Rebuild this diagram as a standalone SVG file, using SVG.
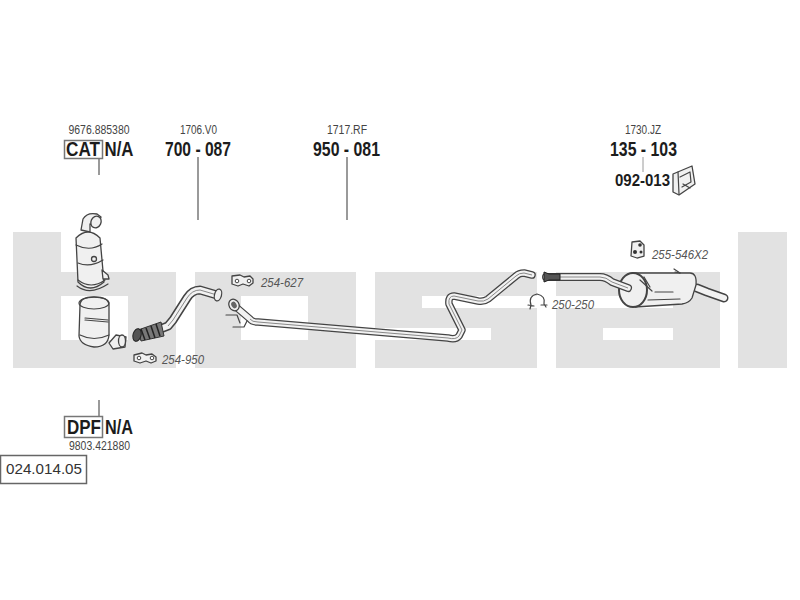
<svg xmlns="http://www.w3.org/2000/svg" width="800" height="600" viewBox="0 0 800 600">
<style>
text{font-family:"Liberation Sans",Arial,sans-serif;fill:#2a2a2a}
.ref{font-size:12px;fill:#444}
.big{font-size:21px;font-weight:bold;fill:#1c1c1c}
.cat{font-size:20px;font-weight:bold;fill:#1c1c1c}
.it{font-size:12px;font-style:italic;fill:#555}
.lead{stroke:#9a9a9a;stroke-width:2;fill:none}
.box{fill:none;stroke:#777;stroke-width:1.5}
.po{fill:none;stroke:#444;stroke-linejoin:round;stroke-linecap:round}
.pi{fill:none;stroke:#f2f2f2;stroke-linejoin:round;stroke-linecap:round}
.pm{fill:none;stroke:#888;stroke-width:1;stroke-linejoin:round}
.s{fill:#f0f0f0;stroke:#444;stroke-width:1.3;stroke-linejoin:round}
.d{fill:none;stroke:#444;stroke-width:1.2;stroke-linecap:round;stroke-linejoin:round}
</style>
<g id="bg" fill="#e2e2e2">
<path fill-rule="evenodd" d="M13 232H61V272H176V368H13ZM61 296V340H128V296Z"/>
<path fill-rule="evenodd" d="M195 272H356V368H195ZM241 296V340H308V296Z"/>
<path d="M375 272H537V296H422V308H537V368H375V340H491V328H375Z"/>
<path fill-rule="evenodd" d="M556 272H720V368H556V308H673V296H556ZM603 328V340H673V328Z"/>
<rect x="738" y="232" width="49" height="136"/>
</g>
<g id="connectors">
<path class="lead" d="M99 158V175"/>
<path class="lead" d="M198 157V220"/>
<path class="lead" d="M347 157V220"/>
<path class="lead" stroke-width="1" d="M643 157V172" style="stroke-width:1"/>
<path class="lead" d="M99 400V416"/>
</g>
<g id="label-cat">
<text class="ref" x="68.500" y="134" textLength="61" lengthAdjust="spacingAndGlyphs">9676.885380</text>
<rect class="box" x="64.500" y="140.500" width="38" height="18"/>
<text class="cat" x="66" y="156" textLength="34" lengthAdjust="spacingAndGlyphs">CAT</text>
<text class="cat" x="104.500" y="156" textLength="29" lengthAdjust="spacingAndGlyphs">N/A</text>
</g>
<g id="label-700">
<text class="ref" x="180" y="134" textLength="37" lengthAdjust="spacingAndGlyphs">1706.V0</text>
<text class="big" x="165" y="156" textLength="66" lengthAdjust="spacingAndGlyphs">700 - 087</text>
</g>
<g id="label-950">
<text class="ref" x="327" y="134" textLength="40" lengthAdjust="spacingAndGlyphs">1717.RF</text>
<text class="big" x="313" y="156" textLength="67" lengthAdjust="spacingAndGlyphs">950 - 081</text>
</g>
<g id="label-135">
<text class="ref" x="625" y="134" textLength="36" lengthAdjust="spacingAndGlyphs">1730.JZ</text>
<text class="big" x="610" y="156" textLength="67" lengthAdjust="spacingAndGlyphs">135 - 103</text>
<text x="615" y="186" textLength="55" lengthAdjust="spacingAndGlyphs" style="font-size:17px;font-weight:bold;fill:#1c1c1c">092-013</text>
</g>
<g id="bracket-092">
<path class="s" d="M673 174L692 166L695 184L679 195L673 192Z"/>
<path class="d" d="M678 172L679 194M680 177L690 172L691 182L682 187M683 184L690 188"/>
</g>
<g id="label-dpf">
<rect class="box" x="64.500" y="416.500" width="38" height="21"/>
<text class="cat" x="67" y="434" textLength="34" lengthAdjust="spacingAndGlyphs">DPF</text>
<text class="cat" x="105" y="434" textLength="28" lengthAdjust="spacingAndGlyphs">N/A</text>
<text class="ref" x="69" y="450" textLength="61" lengthAdjust="spacingAndGlyphs">9803.421880</text>
</g>
<g id="code">
<rect x="0.500" y="455.500" width="86" height="28" fill="#fff" stroke="#666" stroke-width="1.500"/>
<text x="6" y="474" textLength="76" lengthAdjust="spacingAndGlyphs" style="font-size:15px;fill:#333">024.014.05</text>
</g>
<g id="catalyst">
<path class="s" d="M81 230L83 219Q87 212 97 214L101 217L98 226L90 224L90 232Z"/>
<ellipse class="s" cx="96" cy="222" rx="5" ry="6" transform="rotate(25 96 222)"/>
<path class="s" d="M76 238Q88 226 100 238L104 282Q90 294 78 282Z"/>
<path class="d" d="M76 245Q90 252 102 244M78 263Q90 268 103 260M78 280Q91 290 105 280M77 286Q90 296 108 284"/>
<circle class="s" cx="94" cy="259" r="2.500"/>
<path class="s" d="M102 270L108 275L109 279L103 279Z"/>
</g>
<g id="dpf">
<path class="s" d="M80 305Q80 297 94 297Q109 297 109 305L109 335Q108 347 94 347Q80 345 79 336Z"/>
<ellipse class="d" cx="94" cy="303" rx="15" ry="6" fill="#f0f0f0"/>
<path class="d" d="M85 318L108 320M85 320L108 322M80 335Q94 342 109 335"/>
<path class="s" d="M109 343L116 335L126 337L125 347L113 349Z"/>
<ellipse class="s" cx="122" cy="341" rx="3.500" ry="6"/>
</g>
<g id="pipe-700">
<path class="po" stroke-width="9" d="M155 331L168 326L173 320L187 298Q192 290 200 290L217 295"/>
<path class="pi" stroke-width="6" d="M155 331L168 326L173 320L187 298Q192 290 200 290L217 295"/>
<path class="pm" d="M168 326L173 320L187 298Q192 290 200 290L217 295"/>
<ellipse class="s" cx="218" cy="295" rx="3.500" ry="6" transform="rotate(15 218 295)"/>
<path d="M138 330L161 322L164 336L141 341Z" fill="#777" stroke="#333"/>
<path d="M141 329L145 340M146 328L150 339M151 326L155 338M156 324L160 336" stroke="#222" stroke-width="1.500" fill="none"/>
<ellipse cx="137" cy="335" rx="4" ry="6.500" fill="#555" stroke="#222" transform="rotate(15 137 335)"/>
</g>
<g id="pipe-950">
<path class="po" stroke-width="7.500" d="M236 307L250 319Q252 322 258 322L448 338Q456 340 459 336L462 330L449 304Q448 296 454 296L478 301Q484 302 488 299L516 276Q519 273 524 273L532 275"/>
<path class="pi" stroke-width="5" d="M236 307L250 319Q252 322 258 322L448 338Q456 340 459 336L462 330L449 304Q448 296 454 296L478 301Q484 302 488 299L516 276Q519 273 524 273L532 275"/>
<path class="pm" d="M250 319Q252 322 258 322L448 338Q456 340 459 336L462 330L449 304Q448 296 454 296L478 301Q484 302 488 299L516 276Q519 273 524 273L532 275"/>
<ellipse class="s" cx="234" cy="305" rx="5" ry="6" transform="rotate(-30 234 305)"/>
<ellipse cx="234" cy="305" rx="2.500" ry="3.500" fill="#666" transform="rotate(-30 234 305)"/>
<path class="d" d="M226 315H237L240 323M233 327H244L247 321"/>
</g>
<g id="muffler">
<path class="po" stroke-width="9" d="M697 288L707 292L724 298"/>
<path class="pi" stroke-width="6" d="M697 288L707 292L724 298"/>
<path class="s" d="M632 273H690Q697 273 696 285L692 298Q689 303 682 304L635 307Z"/>
<path class="d" d="M648 300L680 299M655 292H673"/>
<ellipse class="s" cx="633" cy="290" rx="14" ry="17" stroke-width="2" style="stroke-width:2"/>
<path class="po" stroke-width="8" d="M546 277H600Q606 277 612 282L628 288"/>
<path class="pi" stroke-width="5.500" d="M546 277H600Q606 277 612 282L628 288"/>
<path class="pm" d="M560 277H600Q606 277 612 282L628 288"/>
<path d="M544 272L549 274L560 274V280L549 280L544 282Z" fill="#555" stroke="#222"/>
<path class="d" d="M640 280L652 291M644 277L650 287M675 272L680 273"/>
<path class="d" d="M674 269L680 273"/>
</g>
<g id="clamp-254-627">
<path class="s" d="M232 276L240 275L244 277L250 276L253 279L253 283L249 286L243 284L238 286L232 284Z"/>
<circle cx="237" cy="281" r="1.800" fill="#fff" stroke="#444"/><circle cx="249" cy="281" r="1.800" fill="#fff" stroke="#444"/>
<text class="it" x="261" y="287" textLength="42" lengthAdjust="spacingAndGlyphs">254-627</text>
</g>
<g id="clamp-254-950">
<path class="s" d="M134 355L142 353L146 355L152 354L156 357L156 361L151 363L146 361L140 363L134 361Z"/>
<circle cx="139" cy="358" r="1.800" fill="#fff" stroke="#444"/><circle cx="152" cy="358" r="1.800" fill="#fff" stroke="#444"/>
<text class="it" x="162" y="364" textLength="42" lengthAdjust="spacingAndGlyphs">254-950</text>
</g>
<g id="clamp-250-250">
<path class="d" d="M531 305Q528 296 537 294Q546 296 544 304M531 305L530 309M544 304L546 307M528 305L534 306M541 305L547 305"/>
<text class="it" x="552" y="309" textLength="42" lengthAdjust="spacingAndGlyphs">250-250</text>
</g>
<g id="mount-255">
<path class="s" d="M632 242L640 241L644 245L644 256L637 258L631 256Z"/>
<circle cx="640" cy="245" r="1.800" fill="#333"/><circle cx="635" cy="252" r="2" fill="#333"/><circle cx="641" cy="252" r="1.500" fill="#333"/>
<text class="it" x="652" y="259" textLength="56" lengthAdjust="spacingAndGlyphs">255-546X2</text>
</g>
</svg>
